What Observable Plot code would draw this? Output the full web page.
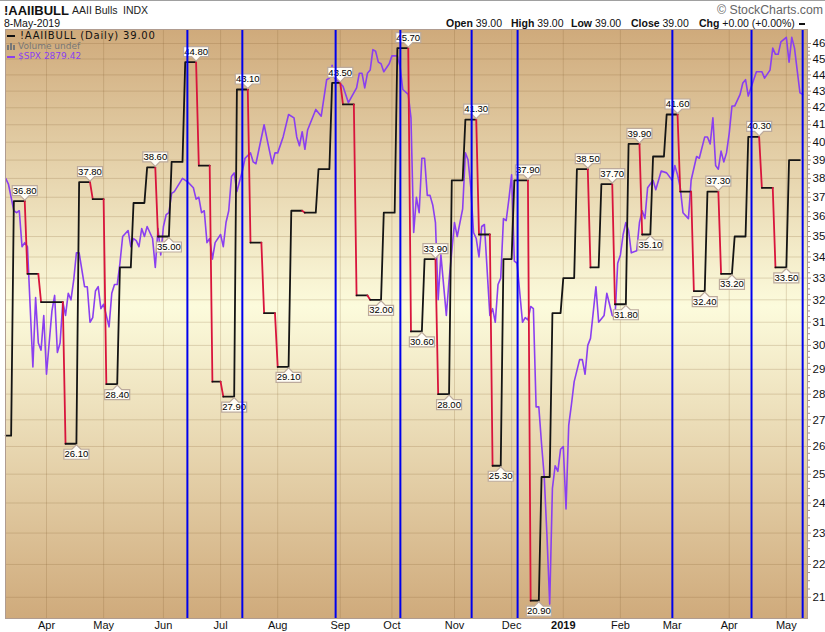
<!DOCTYPE html>
<html>
<head>
<meta charset="utf-8">
<script src="https://cdn.jsdelivr.net/npm/d3@7"></script>
<script src="https://cdn.jsdelivr.net/npm/@observablehq/plot@0.6"></script>
<style>
    body { margin: 0; background: #fff; font-family: "Liberation Sans", sans-serif; }
    #page { position: relative; width: 825px; height: 632px; overflow: hidden; }
    #page span, #page div.item { position: absolute; white-space: nowrap; }
    #topline { position: absolute; left: 0; top: 0; width: 825px; height: 1px; background: #a0a0a0; }
    #chart { position: absolute; left: 0; top: 29px; }
    .stat { top: 17px; font-size: 10.5px; color: #111; }
    .legend { font-family: "DejaVu Sans", sans-serif; font-size: 9px; left: 18px; }
</style>
</head>
<body>
<div id="page">
    <div id="topline"></div>
    <span style="left:4px;top:3px;font-size:13px;font-weight:bold;color:#111">!AAIIBULL</span>
    <span style="left:72px;top:4px;font-size:10.5px;color:#222">AAII Bulls</span>
    <span style="left:123px;top:4px;font-size:10.5px;color:#222">INDX</span>
    <span style="left:4px;top:17px;font-size:10.5px;color:#111">8-May-2019</span>
    <span style="left:717px;top:3px;font-size:12.3px;color:#666">© StockCharts.com</span>
    <span class="stat" style="left:446px"><b>Open</b> 39.00</span>
    <span class="stat" style="left:511px"><b>High</b> 39.00</span>
    <span class="stat" style="left:571px"><b>Low</b> 39.00</span>
    <span class="stat" style="left:631px"><b>Close</b> 39.00</span>
    <span class="stat" style="left:699px"><b>Chg</b> +0.00 (+0.00%)</span>
    <div class="item" style="left:799px;top:23px;width:6px;height:2px;background:#111"></div>
    <div id="chart"></div>
    <div class="item" style="left:7px;top:35px;width:8px;height:2px;background:#111"></div>
    <span class="legend" style="left:20px;top:30px;font-size:10px;letter-spacing:0.8px;color:#111">!AAIIBULL (Daily) 39.00</span>
    <div class="item" style="left:7px;top:45px;width:2px;height:5px;background:#777"></div>
    <div class="item" style="left:10px;top:43px;width:2px;height:7px;background:#777"></div>
    <div class="item" style="left:13px;top:45px;width:2px;height:5px;background:#777"></div>
    <span class="legend" style="top:41px;color:#777">Volume undef</span>
    <div class="item" style="left:7px;top:56px;width:8px;height:2px;background:#8a3ff0"></div>
    <span class="legend" style="top:51px;color:#8a3ff0">$SPX 2879.42</span>
</div>
<script>
// x is the trading session counted from the first session of April 2018
const monthLabels = ["Apr", "May", "Jun", "Jul", "Aug", "Sep", "Oct", "Nov", "Dec", "Feb", "Mar", "Apr", "May"];
const monthSessions = [0, 21, 43, 64, 85, 108, 127, 150, 171, 211, 230, 251, 272];
const yearLabel = "2019";
const yearSession = 190;
const axisValues = d3.range(21, 47);
const minorAxisValues = d3.range(21, 46.01, 0.25).filter(d => d % 1 != 0);

// weekly survey readings: session the value arrives, then the value
const weekSessions = [-15, -12, -7, -2, 3, 7, 12, 17, 22, 27, 32, 37, 41, 46, 51, 56, 61, 65, 70, 75, 80, 85, 90, 95, 100, 105, 109, 114, 119, 124, 129, 134, 139, 144, 149, 154, 159, 164, 168, 172, 178, 182, 186, 190, 195, 200, 204, 209, 214, 219, 223, 228, 233, 238, 243, 248, 253, 258, 263, 268, 273, 278];
const weekValues = [26.4, 36.8, 33.2, 31.9, 31.9, 26.1, 37.8, 36.9, 28.4, 33.5, 36.7, 38.6, 35.0, 38.9, 44.8, 38.7, 28.5, 27.9, 43.1, 34.7, 31.4, 29.1, 36.3, 36.2, 38.5, 43.5, 42.2, 32.2, 32.0, 36.2, 45.7, 30.6, 33.9, 28.0, 37.9, 41.3, 35.1, 25.3, 33.9, 37.9, 20.9, 24.9, 31.4, 33.0, 38.5, 33.5, 37.7, 31.8, 39.9, 35.1, 39.2, 41.6, 37.3, 32.4, 37.3, 33.2, 35.0, 40.3, 37.5, 33.5, 39.0];

// weeks that carry a value label
const peakSessions = [-12, 12, 37, 51, 70, 105, 129, 139, 154, 172, 195, 204, 214, 228, 243, 258];
const troughSessions = [7, 22, 41, 65, 85, 119, 134, 144, 164, 178, 209, 219, 238, 248, 268];

// $SPX overlay, read against the right-hand axis
const spxSessions = [-15, -14, -12, -11, -10, -9, -8, -7, -5, -4, -3, -2, -1, 0, 2, 3, 4, 5, 6, 7, 8, 9, 10, 11, 12, 14, 15, 16, 17, 18, 19, 20, 21, 23, 24, 25, 26, 27, 28, 30, 31, 32, 33, 34, 35, 36, 37, 39, 40, 41, 42, 43, 44, 45, 46, 47, 50, 52, 54, 55, 56, 57, 58, 59, 60, 61, 62, 64, 65, 66, 67, 68, 69, 70, 72, 73, 75, 76, 77, 80, 82, 83, 84, 85, 87, 89, 91, 92, 93, 94, 95, 96, 99, 101, 103, 104, 105, 106, 109, 111, 112, 114, 115, 116, 117, 118, 119, 120, 121, 122, 123, 124, 126, 127, 129, 130, 131, 133, 134, 135, 136, 137, 138, 139, 140, 141, 142, 143, 144, 145, 147, 148, 150, 151, 153, 154, 155, 156, 157, 158, 159, 160, 161, 163, 164, 165, 166, 167, 168, 169, 170, 171, 172, 173, 175, 176, 177, 178, 179, 180, 181, 182, 183, 184, 185, 186, 187, 188, 189, 190, 191, 192, 193, 194, 196, 197, 198, 199, 200, 202, 203, 205, 206, 208, 209, 210, 211, 212, 213, 214, 215, 217, 218, 219, 220, 221, 223, 224, 226, 228, 230, 231, 232, 233, 234, 236, 237, 239, 240, 242, 243, 244, 245, 246, 247, 248, 249, 250, 251, 252, 253, 255, 256, 257, 258, 259, 261, 263, 264, 266, 267, 268, 269, 270, 272, 273, 274, 275, 277, 278];
const spxValues = [38.0, 37.7, 36.3, 36.2, 36.3, 34.5, 34.7, 34.5, 29.1, 32.1, 30.1, 29.8, 31.3, 28.8, 31.5, 32.2, 29.7, 30.1, 31.9, 31.3, 32.3, 32.0, 32.9, 34.2, 34.2, 32.6, 32.6, 31.0, 31.2, 32.4, 32.6, 31.6, 31.8, 30.8, 32.3, 32.7, 32.7, 33.7, 35.0, 35.3, 34.5, 34.9, 34.8, 34.5, 35.4, 35.0, 35.5, 34.9, 33.5, 35.4, 34.1, 35.5, 36.1, 36.2, 37.2, 37.3, 38.0, 37.8, 37.5, 36.9, 37.0, 36.2, 36.3, 34.7, 34.9, 33.9, 34.7, 35.1, 34.5, 35.7, 36.3, 38.1, 38.3, 37.3, 38.4, 39.1, 39.4, 38.9, 38.8, 41.0, 39.5, 38.8, 39.4, 39.4, 40.3, 41.6, 41.4, 40.3, 39.8, 40.6, 39.6, 40.7, 41.9, 41.5, 43.7, 43.8, 44.6, 43.8, 43.3, 42.3, 42.6, 43.2, 44.1, 44.1, 43.2, 44.1, 44.3, 45.6, 45.5, 44.8, 44.7, 44.2, 44.7, 45.2, 45.2, 44.5, 43.1, 42.8, 41.4, 35.2, 37.0, 36.2, 39.1, 39.1, 37.1, 37.1, 36.6, 35.7, 32.0, 34.1, 31.3, 32.9, 35.7, 35.0, 36.4, 39.4, 39.0, 37.5, 35.2, 34.9, 34.0, 35.5, 35.6, 31.3, 31.6, 31.0, 32.7, 33.0, 35.9, 35.8, 36.9, 38.2, 33.8, 33.7, 31.0, 31.2, 31.1, 31.7, 31.6, 27.5, 27.5, 26.1, 24.9, 22.9, 20.8, 24.5, 25.3, 25.1, 25.9, 26.0, 23.8, 26.8, 27.6, 28.5, 29.4, 29.4, 28.8, 30.0, 30.3, 32.6, 31.0, 31.3, 32.3, 31.3, 31.2, 33.7, 34.1, 35.1, 35.7, 35.3, 34.2, 34.3, 35.7, 36.3, 35.9, 37.5, 37.9, 37.4, 38.4, 38.3, 37.9, 38.7, 38.2, 37.5, 36.2, 35.9, 37.9, 39.2, 39.1, 40.3, 40.3, 39.9, 41.4, 38.7, 38.5, 39.5, 38.9, 39.4, 40.5, 42.1, 42.1, 42.8, 43.5, 43.7, 42.7, 43.2, 44.2, 44.2, 43.8, 44.3, 45.7, 45.3, 45.3, 46.1, 46.4, 44.8, 46.4, 45.7, 42.9, 42.8];

// hand-drawn vertical marker lines
const markerSessions = [51.8, 72, 106.3, 130.1, 156.3, 173.2, 230.1, 259.2, 278];

// each week holds its value until the session before the next reading
const bullSteps = weekValues.flatMap((v, i) => [
    {x: weekSessions[i], y: v},
    {x: weekSessions[i + 1] - 1, y: v}
]);
// a segment takes the colour of the point it starts from
bullSteps.forEach((d, i) => {
    let next = bullSteps[i + 1];
    d.color = next && next.y < d.y ? "#d8143c" : "#141414";
});
const spx = spxSessions.map((s, i) => ({x: s, y: spxValues[i]}));

function labelRows(sessions) {
    return sessions.map(s => {
        let i = weekSessions.indexOf(s);
        return {x: weekSessions[i + 1] - 1, y: weekValues[i], text: weekValues[i].toFixed(2)};
    });
}

// callouts drawn as dot symbols, tip sits on the step
const calloutAbove = {draw(c) {
    c.moveTo(-12.5, -15.5); c.lineTo(12.5, -15.5); c.lineTo(12.5, -5.5); c.lineTo(4.5, -5.5);
    c.lineTo(0, -1); c.lineTo(-4.5, -5.5); c.lineTo(-12.5, -5.5); c.closePath();
}};
const calloutBelow = {draw(c) {
    c.moveTo(-12.5, 15.5); c.lineTo(12.5, 15.5); c.lineTo(12.5, 5.5); c.lineTo(4.5, 5.5);
    c.lineTo(0, 1); c.lineTo(-4.5, 5.5); c.lineTo(-12.5, 5.5); c.closePath();
}};

function background() {
    let defs = d3.create("svg:defs");
    let grad = defs.append("linearGradient")
        .attr("id", "bg").attr("x1", 0).attr("y1", 0).attr("x2", 0).attr("y2", 1);
    grad.append("stop").attr("offset", "0%").attr("stop-color", "#cfaa7b");
    grad.append("stop").attr("offset", "47%").attr("stop-color", "#fcfbdc");
    grad.append("stop").attr("offset", "100%").attr("stop-color", "#cfaa7b");
    return defs.node();
}

let gridColor = "rgba(130,95,50,0.22)";
let labelStyle = {fill: "#fffdf6", stroke: "#bcaa9c", strokeWidth: 1.2};

let plot = Plot.plot({
    width: 825,
    height: 603,
    marginTop: 0,
    marginLeft: 5,
    marginRight: 18,
    marginBottom: 14,
    x: {domain: [-15.07, 279.78]},
    y: {type: "log", domain: [20.38, 46.92]},
    style: {fontFamily: "Liberation Sans", fontSize: 11, color: "#111", background: "transparent"},
    marks: [
        background,
        Plot.frame({fill: "url(#bg)", stroke: null}),
        Plot.ruleY(axisValues, {stroke: gridColor}),
        Plot.ruleX([...monthSessions, yearSession], {stroke: gridColor}),
        Plot.line(spx, {x: "x", y: "y", stroke: "#8a3ff0", strokeWidth: 1.6, curve: "linear"}),
        Plot.line(bullSteps, {x: "x", y: "y", stroke: "color", z: null, strokeWidth: 1.8, curve: "linear"}),
        Plot.dot(labelRows(peakSessions), {x: "x", y: "y", symbol: calloutAbove, ...labelStyle}),
        Plot.dot(labelRows(troughSessions), {x: "x", y: "y", symbol: calloutBelow, ...labelStyle}),
        Plot.text(labelRows(peakSessions), {x: "x", y: "y", text: "text", dy: -10.5, fontSize: 9.5, fill: "#000"}),
        Plot.text(labelRows(troughSessions), {x: "x", y: "y", text: "text", dy: 10.5, fontSize: 9.5, fill: "#000"}),
        Plot.ruleX(markerSessions, {stroke: "#0000ee", strokeWidth: 2}),
        Plot.frame({stroke: "#b09c90"}),
        Plot.axisY(minorAxisValues, {anchor: "right", label: null, tickSize: 2, text: null, stroke: "#a08c80"}),
        Plot.axisY(axisValues, {anchor: "right", label: null, tickSize: 3, tickPadding: 2, tickFormat: d => d, stroke: "#a08c80", fontSize: 11.5}),
        Plot.axisX({ticks: monthSessions, tickFormat: (d, i) => monthLabels[i], tickSize: 0, tickPadding: 3, label: null, anchor: "bottom"}),
        Plot.axisX({ticks: [yearSession], tickFormat: () => yearLabel, tickSize: 0, tickPadding: 3, label: null, anchor: "bottom", fontWeight: "bold"})
    ]
});

document.getElementById("chart").append(plot);
</script>
</body>
</html>
